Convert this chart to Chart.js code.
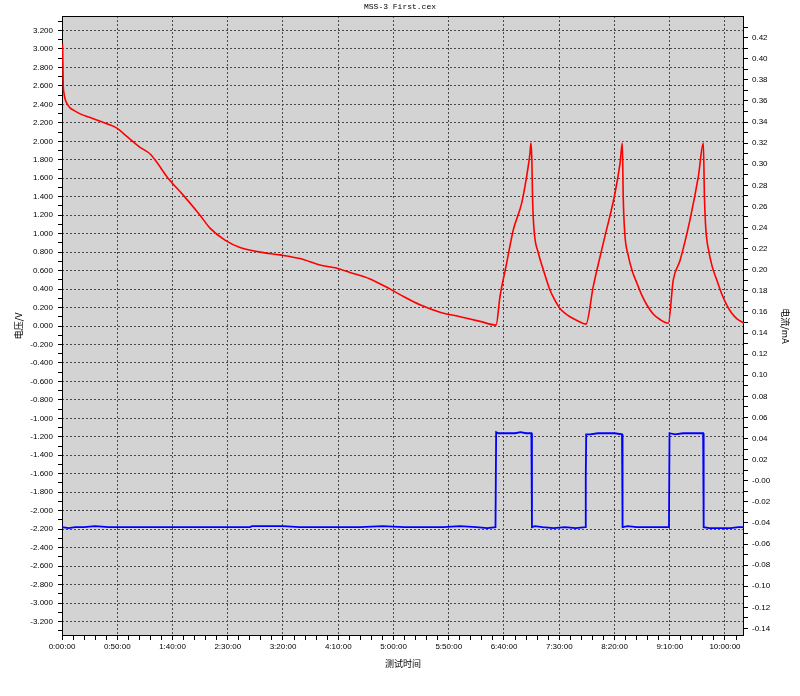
<!DOCTYPE html>
<html>
<head>
<meta charset="utf-8">
<title>MSS-3 First.cex</title>
<script src="https://cdn.jsdelivr.net/npm/chart.js@4.4.1/dist/chart.umd.min.js"></script>
<style>
  html, body { margin: 0; padding: 0; background: #fff; }
  #wrap { width: 800px; height: 696px; }
</style>
</head>
<body>
<div id="wrap"><canvas id="chart" width="800" height="696"></canvas></div>
<script>
// test time in minutes
const redTime = [0.5, 0.8, 1.1, 1.8, 3, 5, 7.5, 10, 16, 25, 34, 43, 50, 59, 70, 80, 86, 96, 109.5, 124.9,
  133.9, 147.5, 161.1, 179.2, 197.3, 215.4, 233.5, 247.1, 260.6, 278.7, 292.3, 305.9, 324, 342.1, 360.2, 378.3,
  392.8, 396.4, 402.4, 408.4, 416, 420.5, 423.5, 424.4, 425.2, 425.9, 427.2, 431.1, 435.6, 441.6, 446, 450.7,
  455, 459.7, 466, 474.2, 480.8, 489.9, 500.5, 505, 507.1, 507.9, 509.2, 512.5, 516.5, 520.1, 524.5, 529.2, 535, 541.2,
  548.7, 553.2, 559.3, 568.3, 575.9, 580.4, 581.4, 582.6, 585.5, 588.5, 592.5, 597, 601.5, 606, 610.6, 617.2];
// voltage, V
const redVolt = [3.05, 2.85, 2.62, 2.52, 2.45, 2.40, 2.36, 2.34, 2.30, 2.26, 2.22, 2.18, 2.14, 2.05, 1.94, 1.86, 1.77, 1.60, 1.42, 1.20,
  1.06, 0.93, 0.85, 0.80, 0.77, 0.73, 0.66, 0.63, 0.58, 0.51, 0.43, 0.34, 0.23, 0.15, 0.10, 0.05,
  0.01, 0.32, 0.68, 1.04, 1.33, 1.62, 1.87, 1.98, 1.80, 1.36, 1.04, 0.79, 0.61, 0.39, 0.28, 0.19,
  0.14, 0.10, 0.06, 0.02, 0.43, 0.90, 1.44, 1.76, 1.98, 1.40, 1.02, 0.76, 0.58, 0.47, 0.34, 0.23, 0.13, 0.07,
  0.03, 0.50, 0.71, 1.15, 1.62, 1.98, 1.40, 1.06, 0.80, 0.64, 0.50, 0.35, 0.23, 0.14, 0.08, 0.03];

const blueTime = [0, 6, 12, 20, 30, 42, 55, 70, 85, 100, 115, 130, 150, 170, 172, 185, 200, 215, 230, 250,
  270, 290, 310, 330, 345, 360, 375, 385, 392.3, 392.9, 395, 400, 405, 410, 415, 420, 424.8, 425.3, 428, 435,
  445, 455, 465, 473.6, 474.0, 474.4, 478, 485, 492, 500, 506.8, 507.3, 512, 520, 530, 540, 549.3, 549.8,
  555, 562, 570, 577, 580.2, 580.7, 586, 595, 605, 612, 617.2];
// current, mA
const blueCurr = [-0.044, -0.045, -0.044, -0.044, -0.043, -0.044, -0.044, -0.044, -0.044, -0.044, -0.044, -0.044, -0.044, -0.044, -0.043, -0.043, -0.043, -0.044, -0.044, -0.044,
  -0.044, -0.043, -0.044, -0.044, -0.044, -0.043, -0.044, -0.045, -0.044, 0.046, 0.045, 0.045, 0.045, 0.045, 0.046, 0.045, 0.045, -0.044, -0.043, -0.044,
  -0.045, -0.044, -0.045, -0.044, 0.003, 0.044, 0.044, 0.045, 0.045, 0.045, 0.044, -0.044, -0.043, -0.044, -0.044, -0.044, -0.044, 0.045,
  0.044, 0.045, 0.045, 0.045, 0.045, -0.044, -0.045, -0.045, -0.045, -0.044, -0.044];

const xTickMinutes = [0, 50, 100, 150, 200, 250, 300, 350, 400, 450, 500, 550, 600];
const xTickLabels = ["0:00:00", "0:50:00", "1:40:00", "2:30:00", "3:20:00", "4:10:00", "5:00:00",
  "5:50:00", "6:40:00", "7:30:00", "8:20:00", "9:10:00", "10:00:00"];
const voltTicks = [-3.2, -3.0, -2.8, -2.6, -2.4, -2.2, -2.0, -1.8, -1.6, -1.4, -1.2, -1.0, -0.8, -0.6, -0.4, -0.2,
  0, 0.2, 0.4, 0.6, 0.8, 1.0, 1.2, 1.4, 1.6, 1.8, 2.0, 2.2, 2.4, 2.6, 2.8, 3.0, 3.2];
const currTicks = [-0.14, -0.12, -0.10, -0.08, -0.06, -0.04, -0.02, 0, 0.02, 0.04, 0.06, 0.08, 0.10, 0.12,
  0.14, 0.16, 0.18, 0.20, 0.22, 0.24, 0.26, 0.28, 0.30, 0.32, 0.34, 0.36, 0.38, 0.40, 0.42];

const X_MAX = 617.2;
const GRID = "#4a4a4a";
const TICK_FONT = { family: "'Liberation Sans', Arial, sans-serif", size: 8 };
const CJK_FONT = { family: "'Noto Sans CJK SC', sans-serif", size: 9 };

function toPoints(xs, ys) {
  return xs.map((x, i) => ({ x, y: ys[i] }));
}

// majors plus evenly spaced minor ticks between them
function withMinors(majors, parts) {
  const out = [];
  for (let i = 0; i < majors.length; i++) {
    out.push(majors[i]);
    if (i < majors.length - 1) {
      const step = (majors[i + 1] - majors[i]) / parts;
      for (let k = 1; k < parts; k++) out.push(majors[i] + step * k);
    }
  }
  return out;
}

function isMajor(list, v) {
  return list.some((m) => Math.abs(m - v) < 1e-7);
}

const xAll = withMinors(xTickMinutes, 5).concat([610]);
const voltAll = [-3.3].concat(withMinors(voltTicks, 2), [3.3]);
const currAll = withMinors(currTicks, 2).concat([0.43]);

const plotFrame = {
  id: "plotFrame",
  beforeDraw(chart) {
    const { ctx, chartArea: a } = chart;
    ctx.save();
    ctx.fillStyle = "#d3d3d3";
    ctx.fillRect(a.left, a.top, a.right - a.left, a.bottom - a.top);
    ctx.restore();
  },
  beforeDatasetsDraw(chart) {
    const { ctx, chartArea: a } = chart;
    ctx.save();
    ctx.strokeStyle = "#000";
    ctx.lineWidth = 1;
    ctx.strokeRect(Math.round(a.left) + 0.5, Math.round(a.top) + 0.5,
      Math.round(a.right - a.left) - 1, Math.round(a.bottom - a.top) - 1);
    ctx.restore();
  }
};

new Chart(document.getElementById("chart"), {
  type: "line",
  data: {
    datasets: [
      {
        label: "电压/V",
        data: toPoints(redTime, redVolt),
        yAxisID: "yV",
        borderColor: "#ff0000",
        borderWidth: 1.6,
        pointRadius: 0,
        cubicInterpolationMode: "monotone"
      },
      {
        label: "电流/mA",
        data: toPoints(blueTime, blueCurr),
        yAxisID: "yI",
        borderColor: "#0000ff",
        borderWidth: 1.8,
        pointRadius: 0,
        tension: 0
      }
    ]
  },
  options: {
    responsive: false,
    animation: false,
    devicePixelRatio: 1,
    layout: { padding: 0 },
    plugins: {
      legend: { display: false },
      tooltip: { enabled: false },
      title: {
        display: true,
        text: "MSS-3 First.cex",
        color: "#000",
        font: { family: "'Liberation Mono', monospace", size: 8, weight: "normal", lineHeight: 1 },
        padding: { top: 3, bottom: 5 }
      }
    },
    scales: {
      x: {
        type: "linear",
        min: 0,
        max: X_MAX,
        afterBuildTicks: (s) => { s.ticks = xAll.map((v) => ({ value: v })); },
        afterFit: (s) => { s.height = 60; },
        ticks: {
          autoSkip: false,
          maxRotation: 0,
          padding: 2,
          color: "#000",
          font: TICK_FONT,
          callback: (v) => {
            const i = xTickMinutes.indexOf(Math.round(v));
            return isMajor(xTickMinutes, v) && i >= 0 ? xTickLabels[i] : "";
          }
        },
        grid: {
          color: (c) => (c.tick && isMajor(xTickMinutes, c.tick.value) ? GRID : "rgba(0,0,0,0)"),
          tickColor: "#000",
          tickLength: 4
        },
        border: { display: false, dash: [2, 2] },
        title: { display: true, text: "测试时间", color: "#000", font: CJK_FONT, padding: { top: 0, bottom: 27 } }
      },
      yV: {
        type: "linear",
        position: "left",
        min: -3.357,
        max: 3.357,
        afterBuildTicks: (s) => { s.ticks = voltAll.map((v) => ({ value: v })); },
        afterFit: (s) => { s.width = 62; },
        ticks: {
          autoSkip: false,
          padding: 5,
          color: "#000",
          font: TICK_FONT,
          callback: (v) => (isMajor(voltTicks, v) ? (Math.abs(v) < 1e-9 ? 0 : v).toFixed(3) : "")
        },
        grid: {
          color: (c) => (c.tick && isMajor(voltTicks, c.tick.value) ? GRID : "rgba(0,0,0,0)"),
          tickColor: "#000",
          tickLength: 4
        },
        border: { display: false, dash: [2, 2] },
        title: { display: true, text: "电压/V", color: "#000", font: CJK_FONT, padding: { top: 13.6, bottom: 0 } }
      },
      yI: {
        type: "linear",
        position: "right",
        min: -0.1472,
        max: 0.4405,
        afterBuildTicks: (s) => { s.ticks = currAll.map((v) => ({ value: v })); },
        afterFit: (s) => { s.width = 56; },
        ticks: {
          autoSkip: false,
          padding: 4,
          color: "#000",
          font: TICK_FONT,
          callback: (v) => {
            if (!isMajor(currTicks, v)) return "";
            return Math.abs(v) < 1e-9 ? "-0.00" : v.toFixed(2);
          }
        },
        grid: {
          drawOnChartArea: false,
          tickColor: "#000",
          tickLength: 4
        },
        border: { display: false },
        title: { display: true, text: "电流/mA", color: "#000", font: CJK_FONT, padding: { top: 9.6, bottom: 0 } }
      }
    }
  },
  plugins: [plotFrame]
});
</script>
</body>
</html>
